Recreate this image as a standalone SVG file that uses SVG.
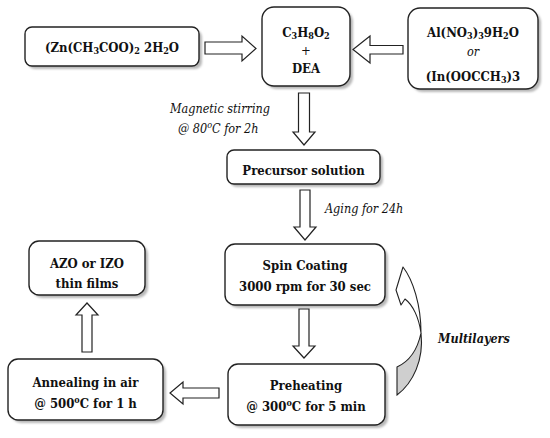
<svg xmlns="http://www.w3.org/2000/svg" width="550" height="438" viewBox="0 0 550 438" font-family="'DejaVu Serif Condensed', 'DejaVu Serif', serif" font-stretch="condensed">
<defs>
<filter id="sh" x="-10%" y="-10%" width="130%" height="140%"><feGaussianBlur stdDeviation="1.2"/></filter>
<style>
.box{fill:#fff;stroke:#222;stroke-width:1.4}
.shd{fill:#b8b8b8;filter:url(#sh)}
.arr{fill:#fff;stroke:#222;stroke-width:1.2;stroke-linejoin:miter}
.t{font-size:13px;font-weight:bold;fill:#111;text-anchor:middle}
.i{font-size:12.5px;font-style:italic;fill:#111}
.bi{font-size:12.5px;font-style:italic;font-weight:bold;fill:#111}
</style>
</defs>
<rect width="550" height="438" fill="#fff"/>

<g id="zinc">
<rect class="shd" x="28" y="30" width="174" height="39" rx="7"/>
<rect class="box" x="25" y="27" width="174" height="39" rx="7"/>
<text class="t" x="112" y="52">(Zn(CH<tspan font-size="9" dy="2">3</tspan><tspan dy="-2">COO)</tspan><tspan font-size="9" dy="2">2</tspan><tspan dy="-2"> 2H</tspan><tspan font-size="9" dy="2">2</tspan><tspan dy="-2">O</tspan></text>
</g>

<g id="solvent">
<rect class="shd" x="265" y="10" width="88" height="79" rx="12"/>
<rect class="box" x="262" y="7" width="88" height="79" rx="12"/>
<text class="t" x="306" y="37">C<tspan font-size="9" dy="2">3</tspan><tspan dy="-2">H</tspan><tspan font-size="9" dy="2">8</tspan><tspan dy="-2">O</tspan><tspan font-size="9" dy="2">2</tspan></text>
<text class="t" x="306" y="55" style="font-weight:normal">+</text>
<text class="t" x="306" y="73">DEA</text>
</g>

<g id="dopant">
<rect class="shd" x="411" y="11" width="130" height="81" rx="12"/>
<rect class="box" x="408" y="8" width="130" height="81" rx="12"/>
<text class="t" x="473" y="37">Al(NO<tspan font-size="9" dy="2">3</tspan><tspan dy="-2">)</tspan><tspan font-size="9" dy="2">3</tspan><tspan dy="-2">9H</tspan><tspan font-size="9" dy="2">2</tspan><tspan dy="-2">O</tspan></text>
<text class="i" x="473" y="56" text-anchor="middle">or</text>
<text class="t" x="473" y="81">(In(OOCCH<tspan font-size="9" dy="2">3</tspan><tspan dy="-2">)3</tspan></text>
</g>

<g id="precursor">
<rect class="shd" x="230" y="153" width="153" height="34" rx="7"/>
<rect class="box" x="227" y="150" width="153" height="34" rx="7"/>
<text class="t" x="303.5" y="175">Precursor solution</text>
</g>

<g id="spin">
<rect class="shd" x="228" y="247" width="160" height="61" rx="10"/>
<rect class="box" x="225" y="244" width="160" height="61" rx="10"/>
<text class="t" x="305" y="270">Spin Coating</text>
<text class="t" x="305" y="291">3000 rpm for 30 sec</text>
</g>

<g id="preheat">
<rect class="shd" x="231" y="367" width="157" height="61" rx="10"/>
<rect class="box" x="228" y="364" width="157" height="61" rx="10"/>
<text class="t" x="306" y="390">Preheating</text>
<text class="t" x="306" y="411">@ 300<tspan font-size="9" dy="-5">o</tspan><tspan dy="5">C for 5 min</tspan></text>
</g>

<g id="anneal">
<rect class="shd" x="11" y="362" width="155" height="61" rx="10"/>
<rect class="box" x="8" y="359" width="155" height="61" rx="10"/>
<text class="t" x="85.5" y="387">Annealing in air</text>
<text class="t" x="85.5" y="408">@ 500<tspan font-size="9" dy="-5">o</tspan><tspan dy="5">C for 1 h</tspan></text>
</g>

<g id="films">
<rect class="shd" x="32" y="244" width="116" height="54" rx="10"/>
<rect class="box" x="29" y="241" width="116" height="54" rx="10"/>
<text class="t" x="87" y="268">AZO or IZO</text>
<text class="t" x="87" y="288">thin films</text>
</g>

<g id="connectors">
<polygon class="arr" points="205,42 242,42 242,36 256,48.5 242,61 242,54 205,54"/>
<polygon class="arr" points="403,45.5 370,45.5 370,36 353,49.5 370,63 370,54 403,54"/>
<polygon class="arr" points="298.5,93 309.5,93 309.5,132 315,132 304,145 293,132 298.5,132"/>
<polygon class="arr" points="300,190 310,190 310,227 316,227 305,240 294,227 300,227"/>
<polygon class="arr" points="299,309 309,309 309,346 315,346 304,358 293,346 299,346"/>
<polygon class="arr" points="219,388 183,388 183,382 170,393 183,404 183,398 219,398"/>
<polygon class="arr" points="82,352 82,315 76,315 87,303 98,315 92,315 92,352"/>
<path d="M397,367 C408,362 417,352 421,333 C424,360 413,383 397,395 Z" fill="#cfcfcf" stroke="#222" stroke-width="1.1"/>
<path d="M403,267 C413,280 421,305 421,333 C419,318 413,305 405,299 L401,305 L396,290 Z" fill="#fff" stroke="#222" stroke-width="1.1" stroke-linejoin="round"/>
</g>

<g id="labels">
<text class="i" x="170" y="113">Magnetic stirring</text>
<text class="i" x="178" y="133">@ 80<tspan font-size="9" dy="-5">o</tspan><tspan dy="5">C for 2h</tspan></text>
<text class="i" x="325" y="213">Aging for 24h</text>
<text class="bi" x="438" y="343">Multilayers</text>
</g>
</svg>
